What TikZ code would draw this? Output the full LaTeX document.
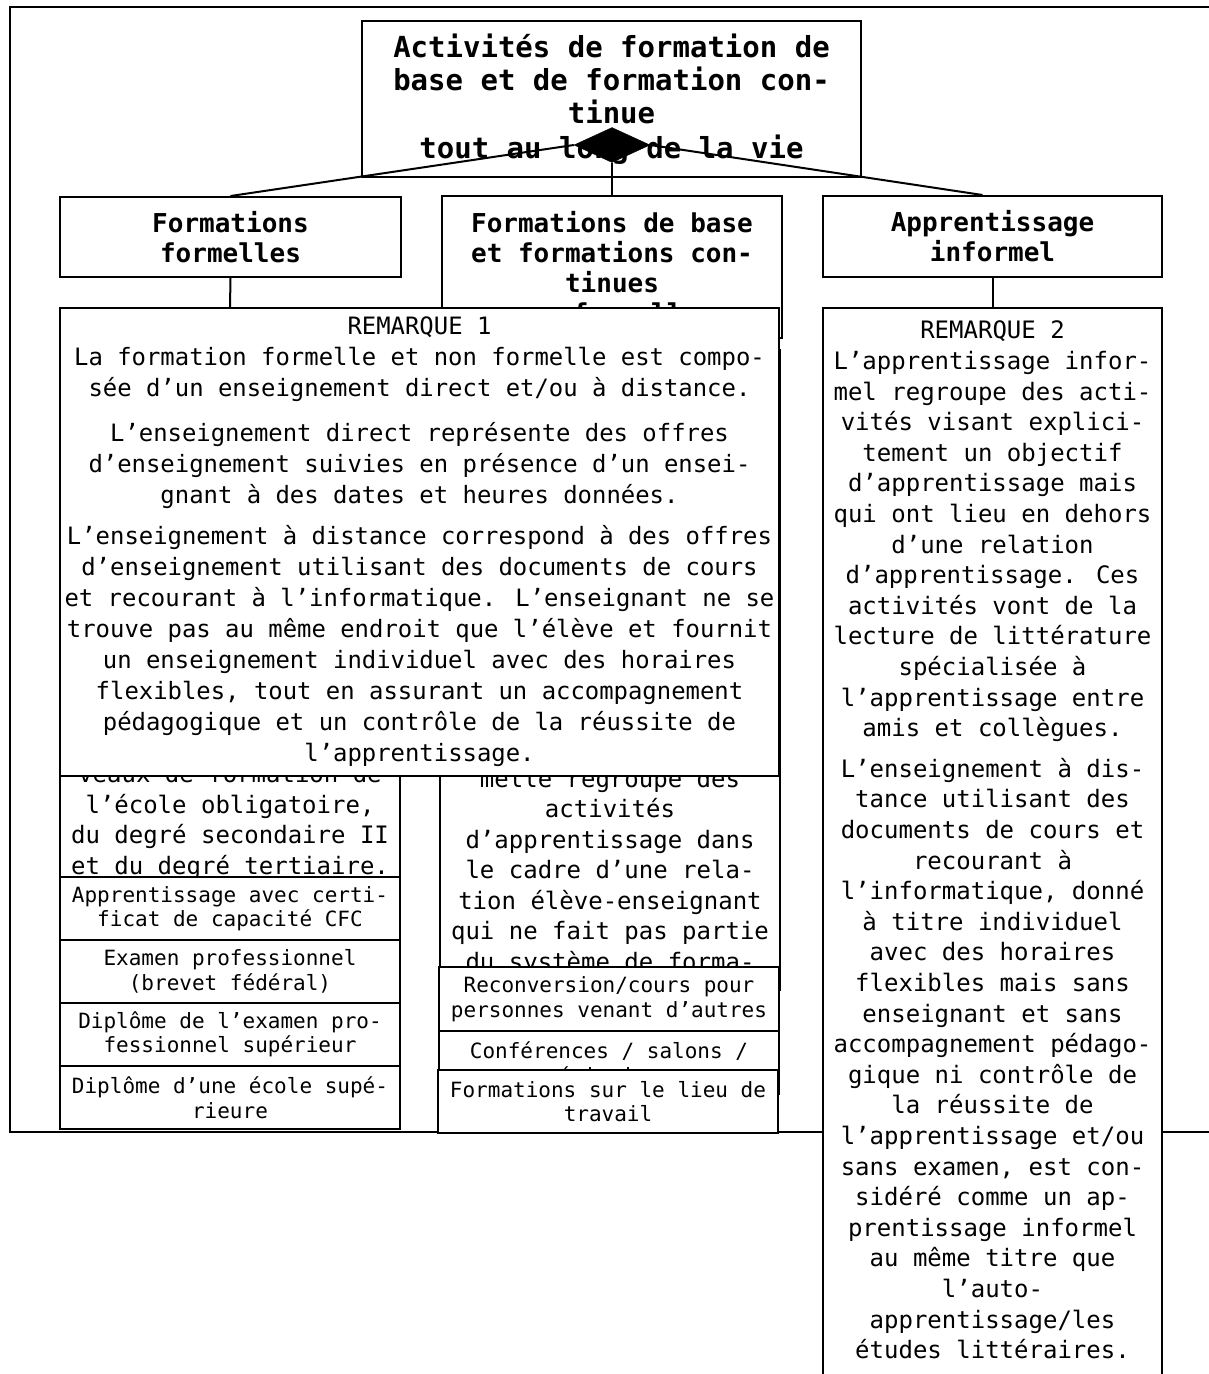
\documentclass[tikz,border=0pt]{standalone}
\usepackage{fontspec}
\setmainfont{DejaVu Sans Mono}
\usetikzlibrary{shapes.geometric}
\newcommand\ftitle{\fontsize{29}{33}\selectfont\bfseries}
\newcommand\fhead{\fontsize{26}{30}\selectfont\bfseries}
\newcommand\frem{\fontsize{23.9}{31}\selectfont}
\newcommand\fremb{\fontsize{24}{30.6}\selectfont}
\newcommand\fdesc{\fontsize{24}{30.5}\selectfont}
\newcommand\fsmall{\fontsize{21}{24.5}\selectfont}
\begin{document}
\begin{tikzpicture}[x=1pt,y=-1pt,
  box/.style={draw, line width=2pt, fill=white, inner sep=0pt, align=center},
  txt/.style={inner sep=0pt, align=center},
  link/.style={line width=2pt}]
\useasboundingbox (0,0) rectangle (1208,1374);
% outer frame
\draw[line width=2.2pt] (10,7) rectangle (1240,1132);
% top
\node[box, minimum width=499pt, minimum height=156pt, font=\ftitle] (top) at (611.5,99)
  {Activités de formation de\\base et de formation con-\\tinue\\[2pt]tout au long de la vie};
\node[box, minimum width=341pt, minimum height=80pt, font=\fhead] (formel) at (230.5,237)
  {Formations\\formelles};
\node[box, minimum width=340pt, minimum height=142pt, font=\fhead] (nonformel) at (612,267)
  {Formations de base\\et formations con-\\tinues\\non formelles};
\node[box, minimum width=339pt, minimum height=81pt, font=\fhead] (informel) at (992.5,236.5)
  {Apprentissage\\informel};
\node[diamond, fill=black, draw=black, minimum width=76pt, minimum height=35pt, inner sep=0pt, aspect=2.2] (agg) at (612,145) {};
\draw[link] (agg.west) -- (formel.north);
\draw[link] (agg.east) -- ([xshift=-10pt]informel.north);
\draw[link] (agg.south) -- (nonformel.north);
% column 1
\node[box, minimum width=340pt, minimum height=582pt] (desc1) at (230,599) {};
\draw[link] (formel.south) -- (desc1.north);
\node[txt, font=\fdesc] (desc1t) at (230,822)
  {veaux de formation de\\l’école obligatoire,\\du degré secondaire II\\et du degré tertiaire.};
\node[box, minimum width=340pt, minimum height=63pt, font=\fsmall] (cfc) at (230,908.5)
  {Apprentissage avec certi-\\ficat de capacité CFC};
\node[box, minimum width=340pt, minimum height=63pt, font=\fsmall] (exam) at (230,971.5)
  {Examen professionnel\\(brevet fédéral)};
\node[box, minimum width=340pt, minimum height=63pt, font=\fsmall] (dipl1) at (230,1034.5)
  {Diplôme de l’examen pro-\\fessionnel supérieur};
\node[box, minimum width=340pt, minimum height=63pt, font=\fsmall] (dipl2) at (230,1097.5)
  {Diplôme d’une école supé-\\rieure};
% column 2
\node[box, minimum width=340pt, minimum height=640pt] (desc2) at (610,670) {};
\node[txt, font=\fdesc] (desc2t) at (610,872)
  {melle regroupe des\\activités\\d’apprentissage dans\\le cadre d’une rela-\\tion élève-enseignant\\qui ne fait pas partie\\du système de forma-};
\node[box, minimum width=340pt, minimum height=64pt, font=\fsmall] (recon) at (609,999)
  {Reconversion/cours pour\\personnes venant d’autres};
\node[box, minimum width=340pt, minimum height=63pt, font=\fsmall] (conf) at (609,1062.5)
  {Conférences / salons /\\séminaires};
\node[box, minimum width=340pt, minimum height=63pt, font=\fsmall] (lieu) at (608,1101.5)
  {Formations sur le lieu de\\travail};
% remark 1
\node[box, minimum width=719pt, minimum height=468pt, font=\frem] (rem1) at (419.5,542)
  {REMARQUE 1\\
La formation formelle et non formelle est compo-\\
sée d’un enseignement direct et/ou à distance.\\[14pt]
L’enseignement direct représente des offres\\
d’enseignement suivies en présence d’un ensei-\\
gnant à des dates et heures données.\\[10pt]
L’enseignement à distance correspond à des offres\\
d’enseignement utilisant des documents de cours\\
et recourant à l’informatique. L’enseignant ne se\\
trouve pas au même endroit que l’élève et fournit\\
un enseignement individuel avec des horaires\\
flexibles, tout en assurant un accompagnement\\
pédagogique et un contrôle de la réussite de\\
l’apprentissage.};
% remark 2
\node[box, minimum width=339pt, minimum height=1090pt] (rem2) at (992.5,853) {};
\node[txt, font=\fremb] (rem2t) at (992.5,840)
  {REMARQUE 2\\
L’apprentissage infor-\\
mel regroupe des acti-\\
vités visant explici-\\
tement un objectif\\
d’apprentissage mais\\
qui ont lieu en dehors\\
d’une relation\\
d’apprentissage. Ces\\
activités vont de la\\
lecture de littérature\\
spécialisée à\\
l’apprentissage entre\\
amis et collègues.\\[10pt]
L’enseignement à dis-\\
tance utilisant des\\
documents de cours et\\
recourant à\\
l’informatique, donné\\
à titre individuel\\
avec des horaires\\
flexibles mais sans\\
enseignant et sans\\
accompagnement pédago-\\
gique ni contrôle de\\
la réussite de\\
l’apprentissage et/ou\\
sans examen, est con-\\
sidéré comme un ap-\\
prentissage informel\\
au même titre que\\
l’auto-\\
apprentissage/les\\
études littéraires.};
\draw[link] (informel.south) -- (rem2.north);
\end{tikzpicture}
\end{document}
